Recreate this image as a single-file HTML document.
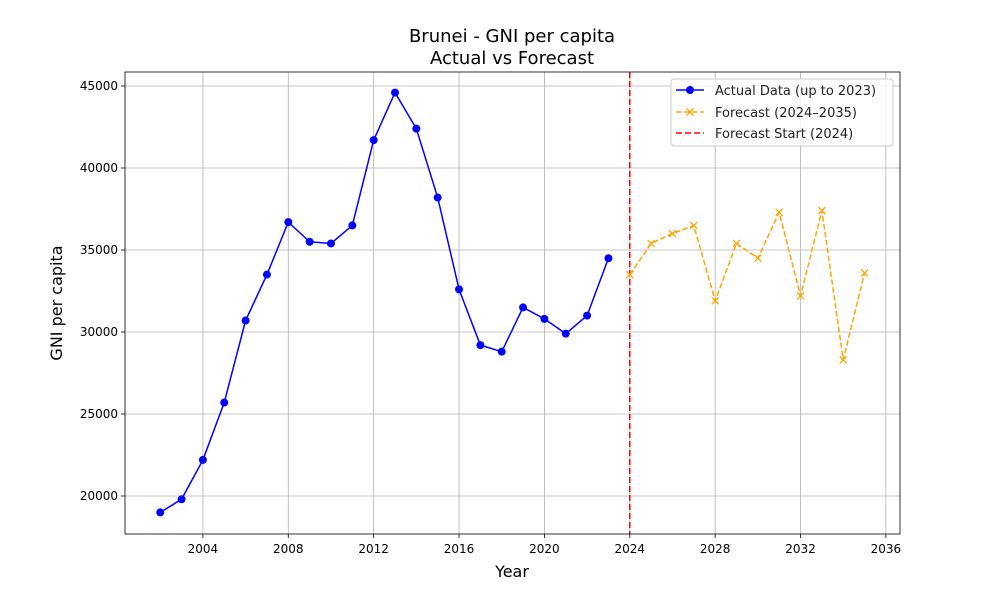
<!DOCTYPE html>
<html><head><meta charset="utf-8"><style>
body{margin:0;background:#fff}
svg{font-family:"DejaVu Sans","Liberation Sans",sans-serif}
</style></head><body>
<svg id="c" width="1000" height="600" xmlns="http://www.w3.org/2000/svg"></svg>
<script>
const actualYears=[2002,2003,2004,2005,2006,2007,2008,2009,2010,2011,2012,2013,2014,2015,2016,2017,2018,2019,2020,2021,2022,2023];
const actualValues=[19000,19800,22200,25700,30700,33500,36700,35500,35400,36500,41700,44600,42400,38200,32600,29200,28800,31500,30800,29900,31000,34500];
const forecastYears=[2024,2025,2026,2027,2028,2029,2030,2031,2032,2033,2034,2035];
const forecastValues=[33500,35400,36000,36500,31900,35400,34500,37300,32200,37400,28300,33600];
const xTicks=[2004,2008,2012,2016,2020,2024,2028,2032,2036];
const yTicks=[20000,25000,30000,35000,40000,45000];
const forecastStart=2024;
const L=125,R=900,T=72,B=534;
const x0=2000.35,x1=2036.66,y0=17683,y1=45854;
const X=v=>L+(v-x0)/(x1-x0)*(R-L);
const Y=v=>B-(v-y0)/(y1-y0)*(B-T);
const s=document.getElementById('c');const NS='http://www.w3.org/2000/svg';
function el(t,a,p){const e=document.createElementNS(NS,t);for(const k in a)e.setAttribute(k,a[k]);(p||s).appendChild(e);return e;}
function tx(x,y,str,a){const e=el('text',Object.assign({x:x,y:y},a));e.textContent=str;return e;}
const g=el('g',{});


xTicks.forEach(v=>{el('line',{x1:X(v),x2:X(v),y1:T,y2:B,stroke:'#b0b0b0','stroke-width':0.8},g);
el('line',{x1:X(v),x2:X(v),y1:B,y2:B+4,stroke:'#000','stroke-width':0.8});
const t=tx(X(v),B+19,v,{'text-anchor':'middle','font-size':12});

});
yTicks.forEach(v=>{el('line',{x1:L,x2:R,y1:Y(v),y2:Y(v),stroke:'#b0b0b0','stroke-width':0.8},g);
el('line',{x1:L-4,x2:L,y1:Y(v),y2:Y(v),stroke:'#000','stroke-width':0.8});
const t=tx(L-7,Y(v)+4,v,{'text-anchor':'end','font-size':12});

});
const vl=el('line',{x1:X(forecastStart),x2:X(forecastStart),y1:T,y2:B,stroke:'red','stroke-width':1.5,'stroke-dasharray':'6,3'});


const pa=el('polyline',{points:actualYears.map((y,i)=>X(y)+','+Y(actualValues[i])).join(' '),fill:'none',stroke:'blue','stroke-width':1.5});


actualYears.forEach((y,i)=>{const c=el('circle',{cx:X(y),cy:Y(actualValues[i]),r:4,fill:'blue'});

});
const pf=el('polyline',{points:forecastYears.map((y,i)=>X(y)+','+Y(forecastValues[i])).join(' '),fill:'none',stroke:'orange','stroke-width':1.5,'stroke-dasharray':'5.5,2.5'});


forecastYears.forEach((y,i)=>{const cx=X(y),cy=Y(forecastValues[i]);
const p=el('path',{d:`M${cx-3.5},${cy-3.5}L${cx+3.5},${cy+3.5}M${cx-3.5},${cy+3.5}L${cx+3.5},${cy-3.5}`,stroke:'orange','stroke-width':1.3});

});
el('rect',{x:L,y:T,width:R-L,height:B-T,fill:'none',stroke:'#000','stroke-width':0.8});
</script>
<svg style="position:absolute;left:0;top:0" width="1000" height="600" xmlns="http://www.w3.org/2000/svg" font-family="DejaVu Sans, Liberation Sans, sans-serif">
<text x="512" y="42" text-anchor="middle" font-size="18">Brunei - GNI per capita</text>
<text x="512" y="64" text-anchor="middle" font-size="18">Actual vs Forecast</text>
<text x="512" y="577" text-anchor="middle" font-size="16">Year</text>
<text x="62" y="303" text-anchor="middle" font-size="16" transform="rotate(-90 62 303)">GNI per capita</text>
<g>
<rect x="671" y="79" width="222" height="67" rx="3" fill="#fff" fill-opacity="0.8" stroke="#ccc"/>
<line x1="676" x2="704" y1="90" y2="90" stroke="blue" stroke-width="1.5"/><circle cx="690" cy="90" r="4" fill="blue"/>
<text x="715" y="95" font-size="13" fill="#222">Actual Data (up to 2023)</text>
<line x1="676" x2="704" y1="112" y2="112" stroke="orange" stroke-width="1.5" stroke-dasharray="5.5,2.5"/><path d="M686.5,108.5L693.5,115.5M686.5,115.5L693.5,108.5" stroke="orange" stroke-width="1.3"/>
<text x="715" y="117" font-size="13" fill="#222">Forecast (2024–2035)</text>
<line x1="676" x2="704" y1="133" y2="133" stroke="red" stroke-width="1.5" stroke-dasharray="6,3"/>
<text x="715" y="138" font-size="13" fill="#222">Forecast Start (2024)</text>
</g>
</svg>
</body></html>
